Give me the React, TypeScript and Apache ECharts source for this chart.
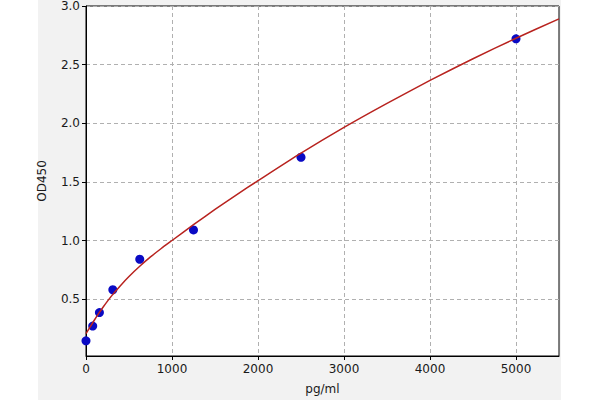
import React, { useEffect, useRef } from "react";
import * as echarts from "echarts";

// Standard concentrations (pg/ml) and measured OD450
const concentrations = [0, 78, 156, 312, 625, 1250, 2500, 5000];
const odValues = [0.144, 0.27, 0.385, 0.58, 0.84, 1.09, 1.71, 2.72];

// Fitted curve
const curveX = [0, 50, 100, 150, 200, 250, 300, 400, 500, 625, 750, 875, 1000, 1250, 1500, 1750, 2000, 2500, 3000, 3500, 4000, 4500, 5000, 5500];
const curveY = [0.205, 0.265, 0.324, 0.38, 0.433, 0.483, 0.53, 0.615, 0.693, 0.78, 0.86, 0.932, 1.0, 1.135, 1.265, 1.39, 1.51, 1.745, 1.965, 2.17, 2.365, 2.55, 2.725, 2.89];

const xTicks = [0, 1000, 2000, 3000, 4000, 5000];
const yTicks = [0.5, 1.0, 1.5, 2.0, 2.5, 3.0];

export default function App() {
  const ref = useRef<HTMLDivElement>(null);
  useEffect(() => {
    if (!ref.current) return;
    const chart = echarts.init(ref.current, undefined, { renderer: "svg" });
    const font = "DejaVu Sans";
    chart.setOption({
      animation: false,
      textStyle: { fontFamily: font },
      grid: {
        left: 86,
        right: 41,
        top: 5,
        bottom: 41,
        show: true,
        backgroundColor: "#ffffff",
        borderColor: "#000000",
        borderWidth: 1,
      },
      xAxis: {
        type: "value",
        min: 0,
        max: 5500,
        name: "pg/ml",
        nameLocation: "middle",
        nameGap: 27,
        nameTextStyle: { fontFamily: font, fontSize: 12, color: "#1a1a1a" },
        axisLine: { show: true, onZero: false, lineStyle: { color: "#000", width: 1 } },
        axisTick: { show: true, length: 4, lineStyle: { color: "#000" }, customValues: xTicks },
        axisLabel: {
          fontFamily: font,
          fontSize: 12,
          color: "#1a1a1a",
          margin: 7,
          customValues: xTicks,
          formatter: (v: number) => String(v),
        },
        splitLine: { show: true, lineStyle: { color: "#b0b0b0", type: [4, 3], width: 1 } },
      },
      yAxis: {
        type: "value",
        min: 0.015,
        max: 3.0,
        name: "OD450",
        nameLocation: "middle",
        nameGap: 38,
        nameRotate: 90,
        nameTextStyle: { fontFamily: font, fontSize: 12, color: "#1a1a1a" },
        axisLine: { show: true, onZero: false, lineStyle: { color: "#000", width: 1 } },
        axisTick: { show: true, length: 4, lineStyle: { color: "#000" }, customValues: yTicks },
        axisLabel: {
          fontFamily: font,
          fontSize: 12,
          color: "#1a1a1a",
          margin: 6,
          customValues: yTicks,
          formatter: (v: number) => v.toFixed(1),
        },
        splitLine: { show: true, lineStyle: { color: "#b0b0b0", type: [4, 3], width: 1 } },
      },
      series: [
        {
          type: "scatter",
          data: concentrations.map((c, i) => [c, odValues[i]]),
          symbol: "circle",
          symbolSize: 9,
          itemStyle: { color: "#0a0ac4", opacity: 1 },
          z: 2,
        },
        {
          type: "line",
          data: curveX.map((c, i) => [c, curveY[i]]),
          showSymbol: false,
          smooth: 0.25,
          lineStyle: { color: "#b8231f", width: 1.5, join: "round" },
          z: 3,
        },
      ],
    });
    return () => chart.dispose();
  }, []);
  return (
    <div
      ref={ref}
      style={{
        position: "fixed",
        left: 0,
        top: 0,
        width: 600,
        height: 400,
        background:
          "linear-gradient(to right, #ffffff 38px, #f2f2f2 38px, #f2f2f2 561px, #ffffff 561px)",
      }}
    />
  );
}
